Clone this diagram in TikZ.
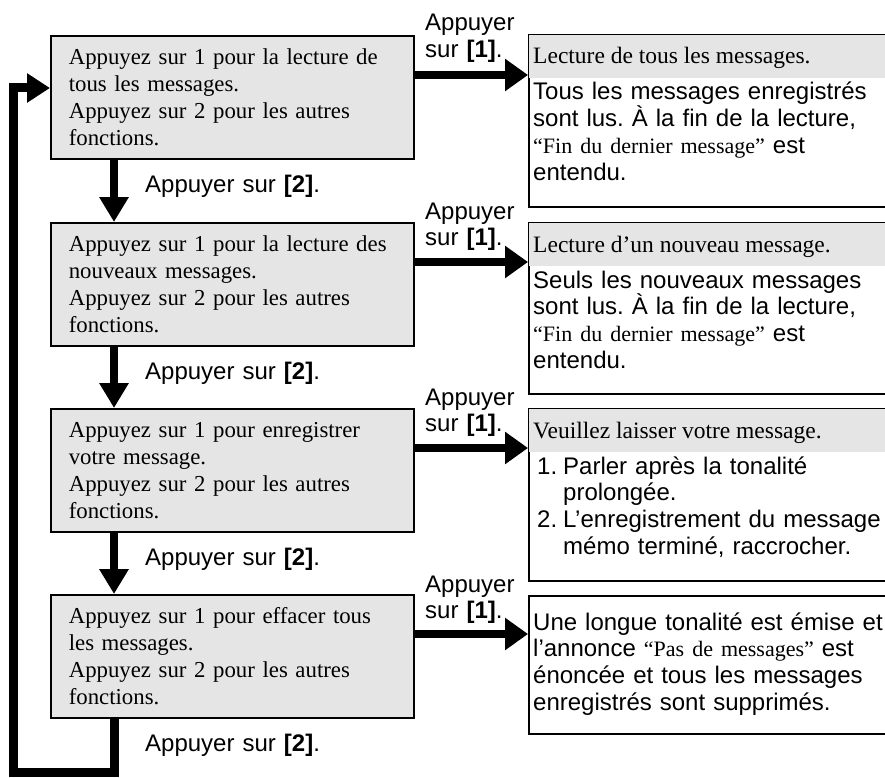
\documentclass[tikz,border=0pt]{standalone}
\usepackage{fontspec}
\setmainfont{Liberation Serif}
\setsansfont{Liberation Sans}
\usetikzlibrary{arrows.meta}
\definecolor{boxgray}{HTML}{E5E5E5}
\newcommand\serf{\rmfamily\fontsize{23.5}{27}\selectfont}
\newcommand\serl{\rmfamily\fontsize{22.8}{27}\selectfont}
\newcommand\seri{\rmfamily\fontsize{22}{26.7}\selectfont}
\newcommand\sanf{\sffamily\fontsize{24}{26.7}\selectfont}
\frenchspacing
\tikzset{
  lbox/.style={draw, line width=1.6pt, fill=boxgray, anchor=north west, minimum width=363pt, minimum height=123pt, text width=327pt, inner xsep=18pt, inner ysep=0pt, align=left, font=\serl\frenchspacing},
  rbox/.style={draw, line width=1.6pt, anchor=north west, minimum width=380pt, inner sep=0pt},
  htext/.style={anchor=base west, inner sep=0pt, font=\serf\frenchspacing},
  btext/.style={anchor=base west, inner sep=0pt, font=\sanf\frenchspacing, align=left, text width=350pt},
  lab/.style={anchor=base west, inner sep=0pt, font=\sanf\frenchspacing, align=left, text width=100pt},
  lab2/.style={lab, text width=220pt},
  harrow/.style={line width=8pt, -{Triangle[length=23pt,width=31pt]}},
  varrow/.style={line width=8pt, -{Triangle[length=25pt,width=28pt]}},
  looparrow/.style={line width=9pt, line join=miter, -{Triangle[length=23pt,width=28pt]}},
}
\begin{document}
\begin{tikzpicture}[x=1pt,y=-1pt]
\clip (0,0) rectangle (885,778);
\fill[white] (0,0) rectangle (885,778);

% left boxes
\node[lbox] (L1) at (50,35) {Appuyez sur 1 pour la lecture de\\tous les messages.\\Appuyez sur 2 pour les autres\\fonctions.};
\node[lbox] (L2) at (50,222) {Appuyez sur 1 pour la lecture des\\nouveaux messages.\\Appuyez sur 2 pour les autres\\fonctions.};
\node[lbox] (L3) at (50,408) {Appuyez sur 1 pour enregistrer\\votre message.\\Appuyez sur 2 pour les autres\\fonctions.};
\node[lbox] (L4) at (50,594) {Appuyez sur 1 pour effacer tous\\les messages.\\Appuyez sur 2 pour les autres\\fonctions.};

% right boxes
\node[rbox, minimum height=172pt] (R1) at (528,34) {};
\node[rbox, minimum height=171pt] (R2) at (528,222) {};
\node[rbox, minimum height=172pt] (R3) at (528,408) {};
\node[rbox, minimum height=138pt] (R4) at (528,595) {};
\foreach \r in {R1,R2,R3}
  \fill[boxgray] ([shift={(0.8pt,-0.8pt)}]\r.north west) rectangle ([shift={(-0.8pt,-44pt)}]\r.north east);

\node[htext] (H1) at (533,64) {Lecture de tous les messages.};
\node[btext] (B1) at (533,100) {Tous les messages enregistrés\\sont lus. À la fin de la lecture,\\{\seri “Fin du dernier message”} est\\entendu.};
\node[htext] (H2) at (533,252) {Lecture d’un nouveau message.};
\node[btext] (B2) at (533,288) {Seuls les nouveaux messages\\sont lus. À la fin de la lecture,\\{\seri “Fin du dernier message”} est\\entendu.};
\node[htext] (H3) at (533,438) {Veuillez laisser votre message.};
\node[btext] (B3) at (537,474) {\makebox[26pt][l]{1.}Parler après la tonalité\\\hspace*{26pt}prolongée.\\\makebox[26pt][l]{2.}L’enregistrement du message\\\hspace*{26pt}mémo terminé, raccrocher.};
\node[btext] (B4) at (533,630) {Une longue tonalité est émise et\\l’annonce {\seri “Pas de messages”} est\\énoncée et tous les messages\\enregistrés sont supprimés.};

% labels for [1]
\node[lab] (P1) at (425,31) {Appuyer\\sur \textbf{[1]}.};
\node[lab] (P2) at (425,219) {Appuyer\\sur \textbf{[1]}.};
\node[lab] (P3) at (425,405) {Appuyer\\sur \textbf{[1]}.};
\node[lab] (P4) at (425,592) {Appuyer\\sur \textbf{[1]}.};

% labels for [2]
\node[lab2] (Q1) at (145,192) {Appuyer sur \textbf{[2]}.};
\node[lab2] (Q2) at (145,379) {Appuyer sur \textbf{[2]}.};
\node[lab2] (Q3) at (145,565) {Appuyer sur \textbf{[2]}.};
\node[lab2] (Q4) at (145,751) {Appuyer sur \textbf{[2]}.};

% horizontal arrows
\foreach \i in {1,2,3,4}{
  \coordinate (a\i) at ([yshift=-40pt]L\i.north east);
  \draw[harrow] (a\i) -- (a\i -| R\i.west);
}
% vertical arrows
\draw[varrow] ([xshift=64pt]L1.south west) -- ([xshift=64pt]L2.north west);
\draw[varrow] ([xshift=64pt]L2.south west) -- ([xshift=64pt]L3.north west);
\draw[varrow] ([xshift=64pt]L3.south west) -- ([xshift=64pt]L4.north west);

% loop back
\coordinate (lb) at ([xshift=64pt]L4.south west);
\coordinate (lt) at ([yshift=-53pt]L1.north west);
\draw[looparrow] (lb) -- (lb |- 0,772) -- (13,772) -- (13,88) -- (lt);
\end{tikzpicture}
\end{document}
